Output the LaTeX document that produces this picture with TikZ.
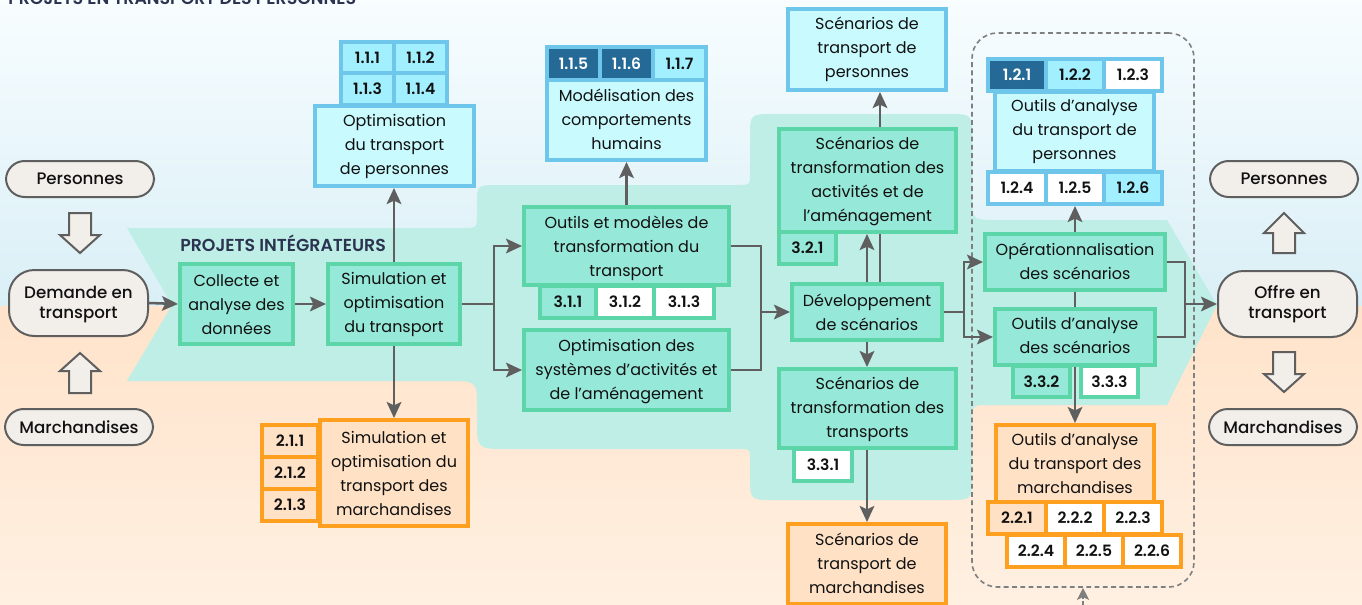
\documentclass[tikz,border=0pt]{standalone}
\usepackage{fontspec}
\setmainfont{Poppins}
\newfontfamily\medf{Poppins Medium}
\newfontfamily\semif{Poppins SemiBold}
\usetikzlibrary{arrows.meta}
\definecolor{bandc}{HTML}{BFEEE6}
\definecolor{blueb}{HTML}{6EC6EA}
\definecolor{bluef}{HTML}{C8FAFE}
\definecolor{bluel}{HTML}{A2F0FF}
\definecolor{blued}{HTML}{256996}
\definecolor{greenb}{HTML}{5CD6A8}
\definecolor{greenf}{HTML}{96E8D8}
\definecolor{orangeb}{HTML}{FF9F1F}
\definecolor{orangef}{HTML}{FFE1C5}
\definecolor{linec}{HTML}{5F5F5F}
\definecolor{pillf}{HTML}{F2EFEA}
\definecolor{titlec}{HTML}{2B3350}
\definecolor{textc}{HTML}{111111}
\tikzset{
  x=0.75pt,y=-0.75pt,
  bx/.style={rectangle,line width=3pt,inner sep=0pt,align=center,text=textc,font=\fontsize{12}{18}\selectfont},
  bluebox/.style={bx,draw=blueb,fill=bluef},
  greenbox/.style={bx,draw=greenb,fill=greenf},
  orangebox/.style={bx,draw=orangeb,fill=orangef},
  numf/.style={font=\semif\fontsize{11.7}{14}\selectfont},
  blcell/.style={bluebox,numf,fill=bluel},
  bwcell/.style={bluebox,numf,fill=white},
  bdcell/.style={bluebox,numf,fill=blued,text=white},
  gcell/.style={greenbox,numf},
  gwcell/.style={greenbox,numf,fill=white},
  ocell/.style={orangebox,numf},
  owcell/.style={orangebox,numf,fill=white},
  pill/.style={rectangle,draw=linec,fill=pillf,line width=1.5pt,inner sep=0pt,align=center,text=textc,rounded corners=14pt,font=\medf\fontsize{12.5}{15}\selectfont},
  bigpill/.style={pill,rounded corners=19pt},
  conn/.style={draw=linec,line width=1.9pt},
  arr/.style={conn,-{Stealth[length=12pt,width=11pt,inset=2.5pt]}},
  blockarr/.style={draw=linec,fill=pillf,line width=1.5pt},
  heading/.style={inner sep=0pt,text=titlec,font=\semif\fontsize{13}{14}\selectfont},
  dashbox/.style={rectangle,draw=linec!80,line width=1.2pt,dash pattern=on 3.6pt off 2.6pt,rounded corners=19pt,inner sep=0pt}
}
\newcommand\bx[7]{\node[#6,minimum width={((#4)-(#2)-4)*0.75pt},minimum height={((#5)-(#3)-4)*0.75pt}] (#1) at ({((#2)+(#4))/2},{((#3)+(#5))/2}) {#7};}
\newcommand\pl[7]{\node[#6,minimum width={((#4)-(#2)-2)*0.75pt},minimum height={((#5)-(#3)-2)*0.75pt}] (#1) at ({((#2)+(#4))/2},{((#3)+(#5))/2}) {#7};}
% \tp pads above a first line (text moves down), \bt pads below a last line (text moves up)
\newcommand\tp[2]{\raisebox{0pt}[\dimexpr\height+#1\relax][\depth]{#2}}
\newcommand\bt[2]{\raisebox{0pt}[\height][\dimexpr\depth+#1\relax]{#2}}
\begin{document}
\begin{tikzpicture}
\clip (0,0) rectangle (1362,604);
\shade[top color={rgb,255:red,248;green,253;blue,255},bottom color={rgb,255:red,217;green,239;blue,246}] (0,0) rectangle (1362,306.5);
\shade[top color={rgb,255:red,255;green,227;blue,202},bottom color={rgb,255:red,255;green,240;blue,226}] (0,306.5) rectangle (1362,604);
% band
\fill[bandc] (127,228) -- (463,228) .. controls (477,228) .. (477,214)
  -- (477,205) .. controls (477,185) .. (497,185)
  -- (738,185) .. controls (750,185) .. (750,173)
  -- (750,138) .. controls (750,114) .. (774,114)
  -- (948,114) .. controls (972,114) .. (972,138)
  -- (972,196) .. controls (972,220) .. (996,220)
  -- (1167,220) -- (1217,305) -- (1167,405)
  -- (990,405) .. controls (972,405) .. (972,423)
  -- (972,476) .. controls (972,500) .. (948,500)
  -- (774,500) .. controls (750,500) .. (750,476)
  -- (750,461) .. controls (750,449) .. (738,449)
  -- (507,449) .. controls (477,449) .. (477,419)
  -- (477,409) .. controls (477,381) .. (449,381)
  -- (127,381) -- (172,305) -- cycle;
\node[heading,anchor=base west] (ttl) at (8,4) {PROJETS EN TRANSPORT DES PERSONNES};
\node[heading,anchor=base west] (pint) at (180,251) {PROJETS INTÉGRATEURS};
% block arrows
\draw[blockarr] (69,213) -- (91,213) -- (91,235) -- (100,235) -- (80,253) -- (60,235) -- (69,235) -- cycle;
\draw[blockarr] (69,393) -- (91,393) -- (91,371) -- (100,371) -- (80,353) -- (60,371) -- (69,371) -- cycle;
\draw[blockarr] (1273,253) -- (1295,253) -- (1295,233) -- (1304,233) -- (1284,213) -- (1264,233) -- (1273,233) -- cycle;
\draw[blockarr] (1273,352) -- (1295,352) -- (1295,374) -- (1304,374) -- (1284,392) -- (1264,374) -- (1273,374) -- cycle;
% pills
\pl{pl1}{5}{160}{155}{198}{pill}{Personnes}
\pl{pl2}{4}{408}{154}{446}{pill}{Marchandises}
\pl{dem}{8}{269}{149}{337}{bigpill}{\tp{3pt}{Demande en}\\transport}
\pl{pr1}{1209}{160}{1359}{198}{pill}{Personnes}
\pl{pr2}{1208}{408}{1358}{446}{pill}{Marchandises}
\pl{off}{1217}{270}{1358}{338}{bigpill}{Offre en\\transport}
% dashed frame
\node[dashbox,minimum width=166.5pt,minimum height=415.5pt] (frame) at (1083,310) {};
\coordinate (fb) at (1083,612);
% left boxes
\bx{col}{178}{262}{295}{346}{greenbox}{\tp{1.5pt}{Collecte et}\\analyse des\\données}
\bx{sim}{326}{262}{462}{346}{greenbox}{\tp{0.5pt}{Simulation et}\\optimisation\\du transport}
% 1.1
\bx{c111}{339}{40}{396}{75}{blcell}{1.1.1}
\bx{c112}{392}{40}{449}{75}{blcell}{1.1.2}
\bx{c113}{339}{71}{396}{107}{blcell}{1.1.3}
\bx{c114}{392}{71}{449}{107}{blcell}{1.1.4}
\bx{opt}{313}{104}{476}{188}{bluebox}{Optimisation\\du transport\\de personnes}
% 2.1
\bx{c211}{260}{423}{320}{459}{ocell}{2.1.1}
\bx{c212}{260}{455}{320}{491}{ocell}{2.1.2}
\bx{c213}{260}{487}{320}{523}{ocell}{2.1.3}
\bx{simm}{318}{418}{470}{528}{orangebox}{Simulation et\\optimisation du\\transport des\\marchandises}
% 1.1.5
\bx{mod}{545}{78}{708}{162}{bluebox}{Modélisation des\\comportements\\\bt{1.5pt}{humains}}
\bx{c115}{545}{45}{602}{82}{bdcell}{1.1.5}
\bx{c116}{598}{45}{655}{82}{bdcell}{1.1.6}
\bx{c117}{651}{45}{708}{82}{blcell}{1.1.7}
% 3.1
\bx{c311}{538}{284}{598}{320}{gcell}{3.1.1}
\bx{c312}{594}{284}{656}{320}{gwcell}{3.1.2}
\bx{c313}{652}{284}{716}{320}{gwcell}{3.1.3}
\bx{outm}{522}{205}{731}{287}{greenbox}{\tp{3pt}{Outils et modèles de}\\transformation du\\transport}
\bx{osys}{522}{328}{731}{412}{greenbox}{\tp{3pt}{Optimisation des}\\systèmes d'activités et\\de l'aménagement}
% scenarios
\bx{scp}{786}{7}{948}{92}{bluebox}{Scénarios de\\transport de\\personnes}
\bx{c321}{777}{230}{838}{266}{gcell}{3.2.1}
\bx{tra}{777}{127}{958}{234}{greenbox}{\tp{1.5pt}{Scénarios de}\\transformation des\\activités et de\\l'aménagement}
\bx{dev}{790}{282}{944}{342}{greenbox}{Développement\\de scénarios}
\bx{c331}{792}{447}{854}{483}{gwcell}{3.3.1}
\bx{trp}{777}{367}{958}{450}{greenbox}{\tp{1.5pt}{Scénarios de}\\transformation des\\transports}
\bx{scm}{786}{522}{948}{606}{orangebox}{Scénarios de\\transport de\\\bt{1.5pt}{marchandises}}
% right column
\bx{oap}{993}{90}{1156}{173}{bluebox}{Outils d'analyse\\du transport de\\personnes}
\bx{c121}{986}{57}{1048}{93}{bdcell}{1.2.1}
\bx{c122}{1044}{57}{1106}{93}{blcell}{1.2.2}
\bx{c123}{1102}{57}{1164}{93}{bwcell}{1.2.3}
\bx{c124}{986}{170}{1048}{206}{bwcell}{1.2.4}
\bx{c125}{1044}{170}{1106}{206}{bwcell}{1.2.5}
\bx{c126}{1102}{170}{1164}{206}{blcell}{1.2.6}
\bx{ope}{983}{232}{1167}{292}{greenbox}{Opérationnalisation\\\bt{1.5pt}{des scénarios}}
\bx{c332}{1011}{364}{1072}{399}{gcell}{3.3.2}
\bx{c333}{1079}{364}{1140}{399}{gwcell}{3.3.3}
\bx{oas}{993}{307}{1157}{367}{greenbox}{Outils d'analyse\\\bt{3pt}{des scénarios}}
\bx{oam}{994}{423}{1156}{505}{orangebox}{Outils d'analyse\\du transport des\\\bt{1.5pt}{marchandises}}
\bx{c221}{986}{500}{1048}{536}{ocell}{2.2.1}
\bx{c222}{1044}{500}{1106}{536}{owcell}{2.2.2}
\bx{c223}{1102}{500}{1164}{536}{owcell}{2.2.3}
\bx{c224}{1005}{533}{1067}{569}{owcell}{2.2.4}
\bx{c225}{1063}{533}{1125}{569}{owcell}{2.2.5}
\bx{c226}{1121}{533}{1183}{569}{owcell}{2.2.6}
% connectors
\coordinate (a394) at (394,304);
\coordinate (f1) at (494,304);
\coordinate (m1) at (761,312);
\coordinate (x880) at (880,0);
\coordinate (x867) at (867,0);
\coordinate (f2) at (964,312);
\coordinate (x1075) at (1075,0);
\coordinate (m2) at (1185,304);
\draw[arr] (dem.east) -- (col.west);
\draw[arr] (col.east) -- (sim.west);
\draw[arr] (sim.north -| a394) -- (opt.south -| a394);
\draw[arr] (sim.south -| a394) -- (simm.north -| a394);
\draw[conn] (sim.east) -- (f1);
\draw[arr] (f1) |- (outm.west);
\draw[arr] (f1) |- (osys.west);
\draw[arr] (outm.north) -- (mod.south);
\draw[conn] (outm.east) -| (m1);
\draw[conn] (osys.east) -| (m1);
\draw[arr] (m1) -- (dev.west);
\draw[arr] (dev.north -| x867) -- (tra.south -| x867);
\draw[conn] (tra.south -| x880) -- (dev.north -| x880);
\draw[arr] (tra.north -| x880) -- (scp.south -| x880);
\draw[arr] (dev.south -| x867) -- (trp.north -| x867);
\draw[arr] (trp.south -| x867) -- (scm.north -| x867);
\draw[conn] (dev.east) -- (f2);
\draw[arr] (f2) |- (ope.west);
\draw[arr] (f2) |- (oas.west);
\draw[arr] (ope.north -| x1075) -- (c125.south -| x1075);
\draw[conn] (ope.south -| x1075) -- (oas.north -| x1075);
\draw[arr] (oas.south -| x1075) -- (oam.north -| x1075);
\draw[conn] (ope.east) -| (m2);
\draw[conn] (oas.east) -| (m2);
\draw[arr] (m2) -- (off.west);
\draw[draw=linec!80,line width=1.2pt,dash pattern=on 3pt off 2pt,-{Stealth[length=9pt,width=9pt,inset=2pt]}] (fb) -- (frame.south -| fb);
\end{tikzpicture}
\end{document}
